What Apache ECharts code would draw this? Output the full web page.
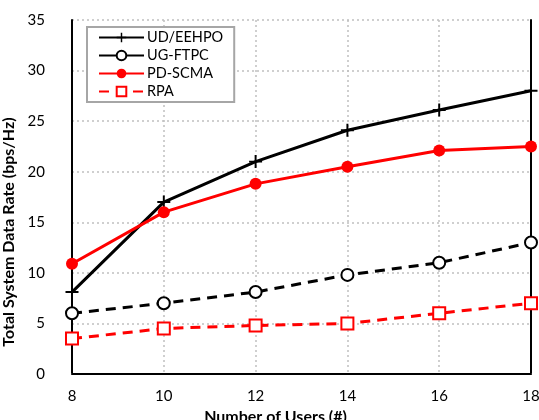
<!DOCTYPE html>
<html>
<head>
<meta charset="utf-8">
<script src="https://cdn.jsdelivr.net/npm/echarts@6/dist/echarts.min.js"></script>
<style>html,body{margin:0;padding:0;background:#fff}#c{width:539px;height:420px}</style>
</head>
<body>
<div id="c"></div>
<script>
const users = [8, 10, 12, 14, 16, 18];
const udEehpo = [8.1, 17, 21, 24.1, 26.1, 28];
const ugFtpc = [6, 7, 8.1, 9.8, 11, 13];
const pdScma = [10.9, 16, 18.8, 20.5, 22.1, 22.5];
const rpa = [3.5, 4.5, 4.8, 5, 6, 7];
const seriesNames = ['UD/EEHPO', 'UG-FTPC', 'PD-SCMA', 'RPA'];

const pair = (ys) => users.map((x, i) => [x, ys[i]]);
const font = 'Lato, "Open Sans", sans-serif';
const plus = 'path://M0,5.1H12V6.9H0Z M5.1,0H6.9V12H5.1Z';

const chart = echarts.init(document.getElementById('c'));
chart.setOption({
  animation: false,
  backgroundColor: '#fff',
  grid: { left: 72, right: 8, top: 20, bottom: 46, containLabel: false, outerBoundsMode: 'none' },
  legend: {
    left: 87, top: 27, orient: 'vertical',
    itemWidth: 45, itemHeight: 12, itemGap: 3,
    padding: [3, 11, 3, 11],
    borderColor: '#a6a6a6', borderWidth: 2,
    backgroundColor: '#fff',
    textStyle: { fontFamily: font, fontSize: 14.5, color: '#000', padding: [0, 0, 0, -2] },
    data: [
      { name: seriesNames[0] },
      { name: seriesNames[1], lineStyle: { type: 'solid' } },
      { name: seriesNames[2] },
      { name: seriesNames[3] }
    ]
  },
  xAxis: [{
    type: 'value', min: 8, max: 18, interval: 2,
    name: 'Number of Users (#)', nameLocation: 'middle', nameGap: 31,
    nameTextStyle: { fontFamily: font, fontSize: 16, fontWeight: 'bold', color: '#000', padding: [0, 52, 0, 0] },
    axisLine: { show: true, onZero: false, lineStyle: { color: '#d4d4d4', width: 2 } },
    axisTick: { show: false },
    axisLabel: { fontFamily: font, fontSize: 15, color: '#000', margin: 15 },
    splitLine: { show: true, lineStyle: { color: '#c0c0c0', type: [2, 3], width: 1.5 } }
  }, {
    type: 'value', position: 'top', min: 8, max: 18, interval: 2,
    axisLine: { show: true, lineStyle: { color: '#000', width: 2 } },
    axisTick: { show: false }, axisLabel: { show: false }, splitLine: { show: false }
  }],
  yAxis: [{
    type: 'value', min: 0, max: 35, interval: 5,
    name: 'Total System Data Rate (bps/Hz)', nameLocation: 'middle', nameGap: 41,
    nameTextStyle: { fontFamily: font, fontSize: 16, fontWeight: 'bold', color: '#000', padding: [0, 70, 0, 0] },
    axisLine: { show: true, onZero: false, lineStyle: { color: '#000', width: 2 } },
    axisTick: { show: false },
    axisLabel: { fontFamily: font, fontSize: 15, color: '#000', margin: 27 },
    splitLine: { show: true, lineStyle: { color: '#c0c0c0', type: [2, 3], width: 1.5 } }
  }, {
    type: 'value', position: 'right', min: 0, max: 35, interval: 5,
    axisLine: { show: true, lineStyle: { color: '#000', width: 2 } },
    axisTick: { show: false }, axisLabel: { show: false }, splitLine: { show: false }
  }],
  series: [
    {
      name: seriesNames[0], type: 'line', data: pair(udEehpo),
      symbol: plus, symbolSize: 13,
      lineStyle: { color: '#000', width: 3 },
      itemStyle: { color: '#000' }
    },
    {
      name: seriesNames[1], type: 'line', data: pair(ugFtpc),
      symbol: 'circle', symbolSize: 12,
      lineStyle: { color: '#000', width: 3, type: [10, 7] },
      itemStyle: { color: '#fff', borderColor: '#000', borderWidth: 2 }
    },
    {
      name: seriesNames[2], type: 'line', data: pair(pdScma),
      symbol: 'circle', symbolSize: 12,
      lineStyle: { color: '#ff0000', width: 3 },
      itemStyle: { color: '#ff0000', borderColor: '#ff0000', borderWidth: 0 }
    },
    {
      name: seriesNames[3], type: 'line', data: pair(rpa),
      symbol: 'rect', symbolSize: 12,
      lineStyle: { color: '#ff0000', width: 3, type: [10, 7] },
      itemStyle: { color: '#fff', borderColor: '#ff0000', borderWidth: 2 }
    }
  ]
});
</script>
</body>
</html>
